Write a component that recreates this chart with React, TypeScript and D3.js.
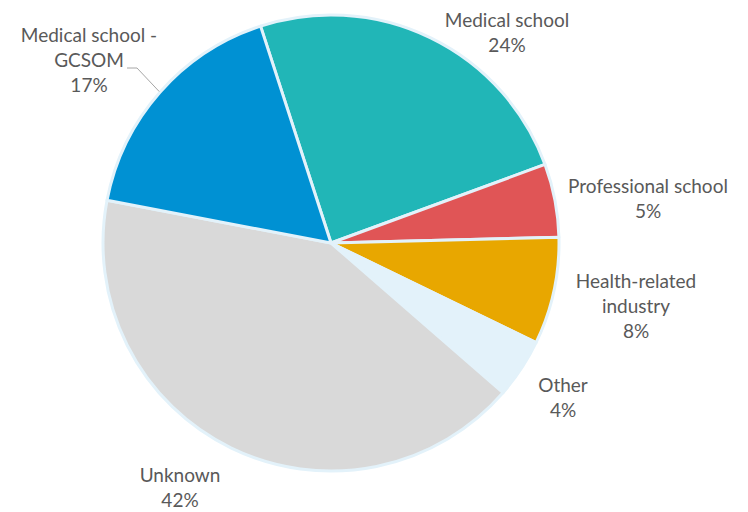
import React from "react";
import * as d3 from "d3";

const categories = [
  "Medical school",
  "Professional school",
  "Health-related industry",
  "Other",
  "Unknown",
  "Medical school - GCSOM",
];
const values = [24.4, 5.2, 7.6, 4.2, 41.6, 17.0];
const labelLines = [
  ["Medical school"],
  ["Professional school"],
  ["Health-related", "industry"],
  ["Other"],
  ["Unknown"],
  ["Medical school -", "GCSOM"],
];
const colors = ["#21B6B7", "#E05556", "#E8A700", "#E3F2FA", "#D9D9D9", "#0091D3"];

// label layout (center x, first baseline y)
const labelPos: [number, number][] = [
  [507, 27],
  [648, 193],
  [636, 288],
  [563, 392],
  [180, 482],
  [89, 42],
];

const W = 748;
const H = 512;
const cx = 331;
const cy = 243;
const R = 228;
const startDeg = -18;
const lineH = 25;

export default function App() {
  const total = d3.sum(values);
  const pie = d3
    .pie<number>()
    .sort(null)
    .startAngle((startDeg * Math.PI) / 180)
    .endAngle((startDeg * Math.PI) / 180 + 2 * Math.PI);
  const arcs = pie(values);
  const arc = d3.arc<d3.PieArcDatum<number>>().innerRadius(0).outerRadius(R);

  // leader line for GCSOM
  const g = arcs[5];
  const mid = (g.startAngle + g.endAngle) / 2;
  const ex = cx + (R + 1) * Math.sin(mid);
  const ey = cy - (R + 1) * Math.cos(mid);

  return (
    <svg
      width={W}
      height={H}
      style={{ position: "absolute", left: 0, top: 0 }}
      fontFamily="Lato, 'Open Sans', sans-serif"
    >
      <rect width={W} height={H} fill="#ffffff" />
      <g transform={`translate(${cx},${cy})`}>
        {arcs.map((a, i) => (
          <path
            key={categories[i]}
            d={arc(a) || ""}
            fill={colors[i]}
            stroke="#E3F2FA"
            strokeWidth={3}
            strokeLinejoin="round"
          />
        ))}
      </g>
      <polyline
        points={`127,68 137,68 ${ex},${ey}`}
        fill="none"
        stroke="#A6A6A6"
        strokeWidth={1}
      />
      {arcs.map((a, i) => {
        const [x, y] = labelPos[i];
        const pct = Math.round((values[i] / total) * 100) + "%";
        const lines = [...labelLines[i], pct];
        return (
          <text
            key={"l" + i}
            x={x}
            y={y}
            textAnchor="middle"
            fill="#595959"
            fontSize={19}
          >
            {lines.map((t, j) => (
              <tspan key={j} x={x} y={y + j * lineH}>
                {t}
              </tspan>
            ))}
          </text>
        );
      })}
    </svg>
  );
}
